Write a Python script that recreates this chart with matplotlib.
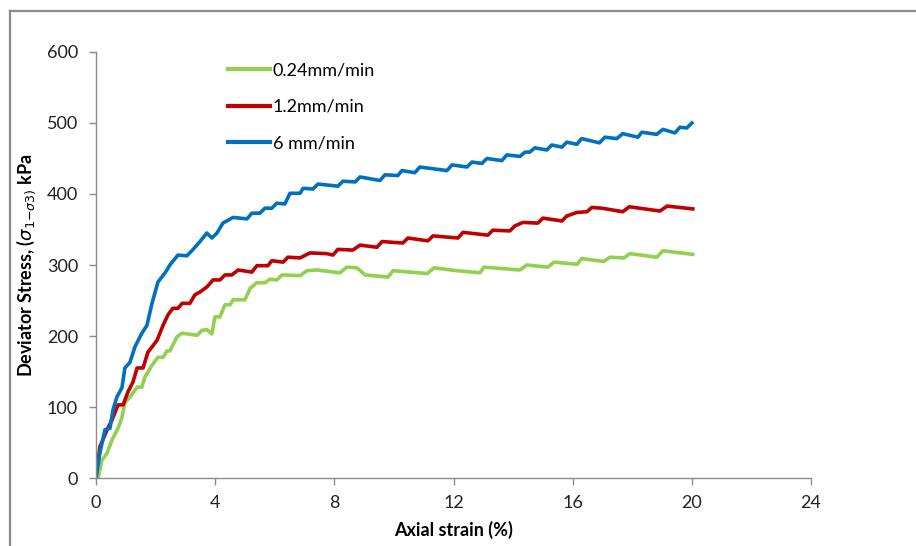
import matplotlib
matplotlib.use("Agg")
import matplotlib.pyplot as plt
from matplotlib.lines import Line2D

# ------------------------------------------------------------------------------
# values (axial strain %, deviator stress kPa)
slow_x = [0, 0.07, 0.2, 0.37, 0.54, 0.74, 0.87, 0.97, 1.14, 1.38, 1.54, 1.64, 1.88,
          2.08, 2.25, 2.38, 2.48, 2.72, 2.89, 3.39, 3.56, 3.72, 3.89, 3.99, 4.16,
          4.33, 4.5, 4.6, 5.0, 5.17, 5.4, 5.67, 5.84, 6.07, 6.24, 6.85, 7.08, 7.42,
          8.19, 8.42, 8.76, 9.03, 9.8, 9.97, 11.12, 11.35, 12.11, 12.89, 13.02,
          14.23, 14.46, 15.17, 15.37, 16.15, 16.3, 17.04, 17.25, 17.72, 17.92,
          18.82, 19.03, 20.03]
slow_y = [0, 0, 25, 35, 54, 70, 85, 106, 114, 128, 128, 142, 159,
          170, 170, 179, 179, 199, 204, 201, 208, 209, 203, 227, 227,
          244, 244, 251, 251, 267, 275, 275, 280, 279, 286, 285, 292, 293,
          289, 297, 296, 286, 283, 292, 288, 296, 292, 289, 297,
          293, 300, 297, 304, 301, 309, 305, 311, 310, 316,
          311, 320, 315]

mid_x = [0, 0.03, 0.13, 0.37, 0.54, 0.74, 0.91, 1.07, 1.24, 1.38, 1.58, 1.74, 2.05,
         2.25, 2.42, 2.58, 2.75, 2.89, 3.15, 3.32, 3.49, 3.72, 3.93, 4.16, 4.33,
         4.56, 4.77, 5.23, 5.4, 5.77, 5.9, 6.28, 6.44, 6.85, 7.18, 7.75, 7.95,
         8.12, 8.62, 8.86, 9.43, 9.6, 10.3, 10.47, 11.14, 11.31, 12.15, 12.32,
         13.15, 13.32, 13.89, 14.06, 14.33, 14.83, 15.0, 15.64, 15.8, 16.14,
         16.48, 16.64, 16.98, 17.68, 17.9, 18.93, 19.17, 20.03]
mid_y = [0, 11, 44, 68, 82, 103, 103, 121, 135, 155, 155, 177, 194,
         215, 230, 239, 239, 246, 246, 258, 262, 269, 279, 279, 286,
         286, 293, 290, 299, 299, 306, 304, 311, 310, 317, 316, 314,
         322, 321, 328, 325, 333, 331, 338, 334, 341, 338, 346,
         342, 349, 348, 355, 360, 359, 366, 362, 369, 374,
         375, 381, 380, 375, 382, 376, 383, 379]

fast_x = [0, 0.13, 0.3, 0.47, 0.57, 0.7, 0.87, 0.97, 1.14, 1.31, 1.54, 1.71, 1.88,
          2.08, 2.32, 2.48, 2.75, 3.05, 3.26, 3.49, 3.72, 3.89, 4.06, 4.26, 4.6,
          5.07, 5.23, 5.5, 5.67, 5.9, 6.07, 6.34, 6.51, 6.85, 6.95, 7.28, 7.45,
          8.12, 8.29, 8.7, 8.86, 9.53, 9.7, 10.13, 10.27, 10.7, 10.87, 11.78,
          11.95, 12.45, 12.62, 12.95, 13.12, 13.62, 13.79, 14.23, 14.4, 14.56,
          14.73, 15.13, 15.3, 15.64, 15.8, 16.14, 16.3, 16.9, 17.08, 17.48, 17.68,
          18.19, 18.32, 18.82, 19.03, 19.43, 19.6, 19.83, 20.0]
fast_y = [0, 35, 68, 70, 96, 114, 127, 155, 163, 185, 204, 215, 246,
          276, 289, 300, 314, 313, 322, 333, 345, 338, 345, 359, 367,
          365, 373, 373, 380, 380, 387, 386, 401, 401, 408, 407, 414,
          411, 418, 417, 424, 419, 427, 426, 433, 430, 438, 433,
          441, 438, 445, 443, 450, 447, 455, 453, 459, 459,
          465, 462, 469, 466, 473, 470, 478, 472, 480, 478, 485,
          480, 487, 484, 491, 486, 494, 493, 500]

labels = ["0.24mm/min", "1.2mm/min", "6 mm/min"]
colors = ["#92D050", "#C00000", "#0070C0"]
x_ticks = [0, 4, 8, 12, 16, 20, 24]
y_ticks = [0, 100, 200, 300, 400, 500, 600]

# ------------------------------------------------------------------------------
fig = plt.figure(figsize=(9.16, 5.46), dpi=100)
ax = fig.add_axes([0.1048, 0.1245, 0.7806, 0.7803])

series = [(slow_x, slow_y), (mid_x, mid_y), (fast_x, fast_y)]
for (xs, ys), lab, col in zip(series, labels, colors):
    ax.plot(xs, ys, color=col, lw=2.6, label=lab, solid_joinstyle="round")

ax.set_xlim(0, 24)
ax.set_ylim(0, 600)
ax.set_xticks(x_ticks)
ax.set_yticks(y_ticks)

# axes styling
for side in ["top", "right"]:
    ax.spines[side].set_visible(False)
for side in ["left", "bottom"]:
    ax.spines[side].set_color("#8c8c8c")
    ax.spines[side].set_linewidth(1.0)
ax.tick_params(direction="out", length=5, width=1, color="#8c8c8c",
               labelsize=13, labelcolor="#222222")
ax.tick_params(axis="y", pad=8)
ax.tick_params(axis="x", pad=7)
for lbl in ax.get_xticklabels() + ax.get_yticklabels():
    lbl.set_family("Lato")

ax.set_xlabel("Axial strain (%)", fontsize=13, fontweight="bold",
              family="Lato", labelpad=7)
ax.set_ylabel(r"Deviator Stress, ($\sigma_{1\mathrm{-}\sigma3)}$ kPa",
              fontsize=13, fontweight="bold", family="Lato", labelpad=6)

leg = ax.legend(loc="upper left", bbox_to_anchor=(0.185, 0.975),
                frameon=False, borderpad=0, borderaxespad=0,
                handlelength=2.3, handletextpad=0.15, labelspacing=1.12,
                prop={"family": "Lato", "size": 13})
for h in leg.get_lines():
    h.set_linewidth(3)

# outer chart frame (top and left edges visible)
fig.add_artist(Line2D([0.011, 1.0], [0.98, 0.98], transform=fig.transFigure,
                      color="#8c8c8c", lw=1.6))
fig.add_artist(Line2D([0.011, 0.011], [0.0, 0.98], transform=fig.transFigure,
                      color="#8c8c8c", lw=1.6))

fig.savefig("out.png", dpi=100)
